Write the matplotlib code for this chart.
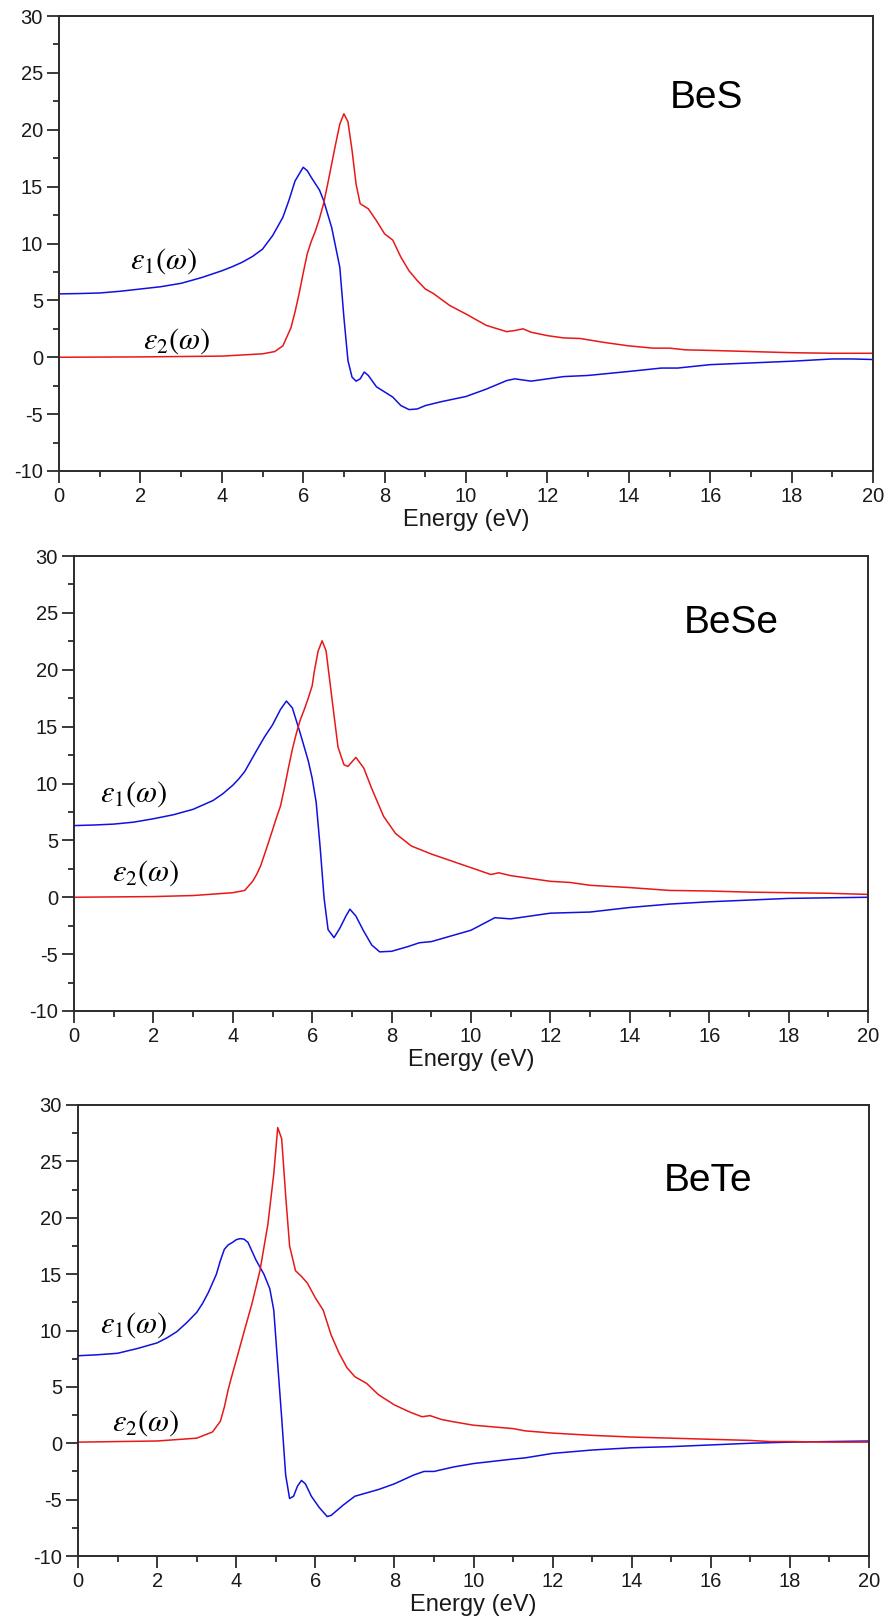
import numpy as np
import matplotlib
matplotlib.use('Agg')
import matplotlib.pyplot as plt
from matplotlib.ticker import MultipleLocator

plt.rcParams['font.family'] = ['Liberation Sans', 'DejaVu Sans']
plt.rcParams['mathtext.fontset'] = 'stix'
plt.rcParams['axes.unicode_minus'] = False

# BeS
bes_e1_x = [0, 0.5, 1, 1.5, 2, 2.5, 3, 3.5, 4, 4.25, 4.5, 4.75, 5, 5.25, 5.5, 5.65, 5.8, 6.0, 6.1,
            6.2, 6.4, 6.5, 6.7, 6.9, 7.0, 7.1, 7.2, 7.3, 7.4, 7.5, 7.6, 7.8, 8.0, 8.2, 8.4, 8.6,
            8.8, 9.0, 9.4, 10, 10.5, 11, 11.2, 11.6, 12, 12.4, 13, 14, 14.8, 15.2, 16, 17, 18,
            19, 19.5, 20]
bes_e1_y = [5.57, 5.6, 5.65, 5.8, 6.0, 6.2, 6.5, 7.0, 7.6, 7.95, 8.35, 8.85, 9.5, 10.7, 12.3,
            13.8, 15.5, 16.7, 16.4, 15.8, 14.7, 13.8, 11.4, 7.9, 3.5, -0.3, -1.75, -2.1, -1.9,
            -1.3, -1.6, -2.6, -3.05, -3.5, -4.25, -4.6, -4.55, -4.25, -3.9, -3.45, -2.8, -2.05,
            -1.9, -2.1, -1.9, -1.7, -1.6, -1.25, -0.95, -0.95, -0.65, -0.5, -0.35, -0.15, -0.15,
            -0.2]
bes_e2_x = [0, 2, 4, 5, 5.3, 5.5, 5.7, 5.8, 5.9, 6.0, 6.1, 6.2, 6.3, 6.4, 6.5, 6.6, 6.7, 6.8,
            6.9, 7.0, 7.1, 7.2, 7.3, 7.4, 7.6, 7.8, 8.0, 8.2, 8.4, 8.6, 8.8, 9.0, 9.2, 9.6, 10,
            10.5, 11, 11.2, 11.4, 11.6, 12, 12.4, 12.8, 13.4, 14, 14.6, 15, 15.4, 16, 17, 18, 19,
            20]
bes_e2_y = [0.0, 0.03, 0.1, 0.3, 0.5, 1.0, 2.6, 4.0, 5.6, 7.4, 9.1, 10.2, 11.1, 12.2, 13.5, 15.2,
            17.0, 18.8, 20.5, 21.4, 20.7, 18.2, 15.2, 13.5, 13.05, 12.0, 10.85, 10.3, 8.8, 7.6,
            6.75, 6.0, 5.6, 4.55, 3.8, 2.8, 2.25, 2.35, 2.5, 2.2, 1.9, 1.7, 1.65, 1.3, 1.0, 0.8,
            0.8, 0.65, 0.6, 0.5, 0.4, 0.35, 0.35]

# BeSe
bese_e1_x = [0, 0.5, 1, 1.5, 2, 2.5, 3, 3.5, 3.75, 4, 4.15, 4.3, 4.6, 4.8, 5.0, 5.2, 5.35, 5.5,
             5.7, 5.9, 6.0, 6.1, 6.2, 6.3, 6.4, 6.55, 6.7, 6.85, 6.95, 7.1, 7.3, 7.5, 7.7, 8.0,
             8.4, 8.7, 9.0, 9.5, 10, 10.6, 11, 12, 13, 14, 15, 16, 17, 18, 19, 20]
bese_e1_y = [6.3, 6.35, 6.43, 6.6, 6.9, 7.25, 7.73, 8.5, 9.1, 9.85, 10.4, 11.05, 12.9, 14.1,
             15.15, 16.5, 17.25, 16.65, 14.4, 12.0, 10.45, 8.35, 4.4, -0.1, -2.85, -3.55, -2.7,
             -1.65, -1.05, -1.65, -3.0, -4.2, -4.8, -4.75, -4.35, -4.0, -3.9, -3.4, -2.9, -1.8,
             -1.9, -1.4, -1.3, -0.9, -0.6, -0.4, -0.25, -0.1, -0.05, 0.0]
bese_e2_x = [0, 2, 3, 4, 4.3, 4.5, 4.6, 4.7, 4.85, 5.0, 5.1, 5.2, 5.3, 5.4, 5.5, 5.6, 5.7, 5.8,
             5.9, 6.0, 6.05, 6.15, 6.25, 6.35, 6.5, 6.65, 6.8, 6.9, 7.1, 7.3, 7.5, 7.8, 8.1, 8.5,
             9.0, 9.5, 10, 10.5, 10.7, 11, 12, 12.5, 13, 14, 15, 16, 17, 18, 19, 20]
bese_e2_y = [0.0, 0.06, 0.15, 0.4, 0.6, 1.4, 2.0, 2.75, 4.3, 5.9, 7.0, 8.0, 9.6, 11.35, 13.0,
             14.4, 15.6, 16.5, 17.5, 18.6, 19.8, 21.65, 22.55, 21.65, 17.4, 13.2, 11.65, 11.5,
             12.3, 11.35, 9.55, 7.1, 5.6, 4.5, 3.8, 3.2, 2.6, 2.0, 2.15, 1.9, 1.4, 1.3, 1.05,
             0.85, 0.6, 0.55, 0.45, 0.4, 0.35, 0.25]

# BeTe
bete_e1_x = [0, 0.5, 1, 1.5, 2, 2.25, 2.5, 2.75, 3, 3.15, 3.3, 3.5, 3.6, 3.7, 3.8, 3.9, 4.0, 4.1,
             4.2, 4.3, 4.5, 4.7, 4.85, 4.95, 5.05, 5.15, 5.25, 5.35, 5.45, 5.55, 5.65, 5.75, 5.9,
             6.1, 6.3, 6.4, 6.7, 7.0, 7.3, 7.6, 8.0, 8.5, 8.75, 9.0, 9.5, 10, 11, 11.3, 12, 13,
             14, 15, 16, 17, 18, 19, 20]
bete_e1_y = [7.76, 7.85, 7.98, 8.4, 8.9, 9.35, 9.9, 10.7, 11.6, 12.4, 13.4, 15.0, 16.2, 17.2,
             17.6, 17.8, 18.05, 18.15, 18.1, 17.8, 16.25, 15.0, 13.7, 11.8, 7.0, 2.25, -2.8,
             -4.9, -4.7, -3.8, -3.3, -3.6, -4.7, -5.7, -6.5, -6.4, -5.5, -4.7, -4.4, -4.1, -3.6,
             -2.8, -2.5, -2.5, -2.1, -1.8, -1.4, -1.3, -0.9, -0.6, -0.4, -0.3, -0.15, 0.0, 0.1,
             0.15, 0.2]
bete_e2_x = [0, 2, 3, 3.4, 3.6, 3.7, 3.8, 3.9, 4.0, 4.2, 4.4, 4.6, 4.8, 4.95, 5.05, 5.15, 5.25,
             5.35, 5.5, 5.65, 5.8, 6.0, 6.2, 6.4, 6.6, 6.8, 7.0, 7.3, 7.6, 8.0, 8.4, 8.7, 8.9,
             9.2, 9.5, 10, 11, 11.3, 12, 13, 14, 15, 16, 17, 17.5, 18, 19, 20]
bete_e2_y = [0.1, 0.2, 0.45, 1.0, 1.95, 3.2, 4.8, 6.1, 7.35, 9.9, 12.4, 15.3, 19.4, 23.9, 28.0,
             27.0, 22.0, 17.5, 15.3, 14.8, 14.2, 12.9, 11.8, 9.6, 8.0, 6.7, 5.9, 5.3, 4.3, 3.4,
             2.75, 2.35, 2.45, 2.1, 1.9, 1.6, 1.3, 1.1, 0.9, 0.7, 0.55, 0.45, 0.35, 0.25, 0.15,
             0.15, 0.1, 0.1]

compounds = ['BeS', 'BeSe', 'BeTe']
e1_x = [bes_e1_x, bese_e1_x, bete_e1_x]
e1_y = [bes_e1_y, bese_e1_y, bete_e1_y]
e2_x = [bes_e2_x, bese_e2_x, bete_e2_x]
e2_y = [bes_e2_y, bese_e2_y, bete_e2_y]

W, H = 888, 1621
fig = plt.figure(figsize=(W / 100, H / 100), dpi=100)

# axes boxes in pixels: left, right, top, bottom
boxes = [(59, 873, 16, 471), (74, 868, 556, 1011), (78, 869, 1105, 1556)]
name_pos = [(15.9, 22.8), (16.55, 24.1), (15.93, 23.25)]
e1_pos = [(1.74, 8.5), (0.65, 9.1), (0.55, 10.5)]
e2_pos = [(2.06, 1.45), (0.95, 2.1), (0.85, 1.8)]

spine_col = '#2b2b2b'
for i, name in enumerate(compounds):
    l, r, t, b = boxes[i]
    ax = fig.add_axes([l / W, 1 - b / H, (r - l) / W, (b - t) / H])
    ax.plot(e1_x[i], e1_y[i], color='#1010e0', lw=1.1)
    ax.plot(e2_x[i], e2_y[i], color='#e81818', lw=1.1)
    ax.set_xlim(0, 20)
    ax.set_ylim(-10, 30)
    ax.xaxis.set_major_locator(MultipleLocator(2))
    ax.xaxis.set_minor_locator(MultipleLocator(1))
    ax.yaxis.set_major_locator(MultipleLocator(5))
    ax.yaxis.set_minor_locator(MultipleLocator(2.5))
    ax.tick_params(which='both', direction='out', width=1.3, color=spine_col,
                   labelsize=14.5, labelcolor='#1a1a1a')
    ax.tick_params(which='major', length=8.5, pad=3)
    ax.tick_params(which='minor', length=4)
    for s in ax.spines.values():
        s.set_linewidth(1.4)
        s.set_color(spine_col)
    ax.set_xlabel('Energy (eV)', fontsize=17, color='#1a1a1a', labelpad=2)
    ax.text(name_pos[i][0], name_pos[i][1], name, fontsize=28, ha='center', va='center')
    ax.text(e1_pos[i][0], e1_pos[i][1], r'$\varepsilon_{\mathit{1}}(\omega)$', fontsize=22,
            ha='left', va='center')
    ax.text(e2_pos[i][0], e2_pos[i][1], r'$\varepsilon_{\mathit{2}}(\omega)$', fontsize=22,
            ha='left', va='center')

fig.savefig('out.png', dpi=100)
